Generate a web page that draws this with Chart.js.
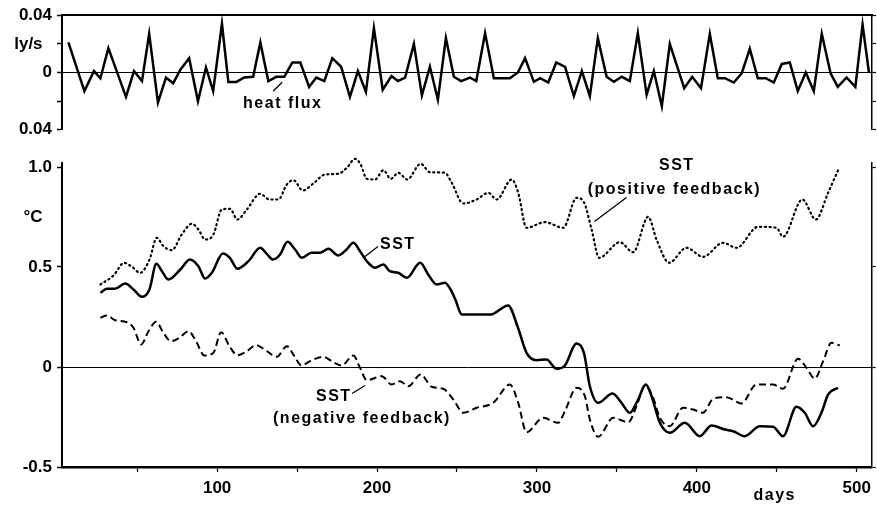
<!DOCTYPE html>
<html>
<head>
<meta charset="utf-8">
<script src="https://cdn.jsdelivr.net/npm/chart.js@4.4.0/dist/chart.umd.min.js"></script>
<style>
  html, body { margin: 0; padding: 0; background: #fff; }
  #wrap { position: relative; width: 877px; height: 506px; overflow: hidden; }
  #flux { position: absolute; left: 0; top: 0; }
  #sst { position: absolute; left: 0; top: 140px; }
</style>
</head>
<body>
<div id="wrap">
  <canvas id="flux" width="877" height="145"></canvas>
  <canvas id="sst" width="877" height="366"></canvas>
</div>
<script>
// heat flux (ly/s)
var fluxDays = [7, 17, 23, 27, 32, 43, 48, 53, 57.5, 63, 68, 72.5, 77, 82.5, 88, 93, 97.5, 103, 107, 112,
  117, 122.5, 127, 132, 137, 142, 147, 152, 157.5, 162, 167, 172, 177.5, 183, 188, 193, 198, 203.5, 209, 213,
  217.5, 223, 228, 233, 238, 243, 248, 252.5, 258, 262, 267.5, 273, 278, 283, 288, 292.5, 298, 302, 307, 312,
  317.5, 323, 328, 333, 338, 343.5, 348, 353, 358, 363, 368.5, 373, 378, 383, 392, 397, 402.5, 408, 413, 417.5,
  423, 428, 433, 438, 443, 448, 453, 458, 463, 468, 473, 478, 483.5, 488, 493.5, 499, 503.5, 507.5];
var fluxValues = [0.021, -0.013, 0.001, -0.004, 0.017, -0.017, 0.001, -0.006, 0.027, -0.021, -0.0035, -0.0075, 0.002, 0.010, -0.020, 0.0035, -0.013, 0.034, -0.0066, -0.0066,
  -0.0035, -0.003, 0.021, -0.006, -0.003, -0.003, 0.007, 0.007, -0.010, -0.0035, -0.006, 0.010, 0.004, -0.017, 0.001, -0.0135, 0.031, -0.012, -0.0025, -0.006,
  -0.0035, 0.020, -0.016, 0.004, -0.019, 0.024, -0.003, -0.006, -0.0035, -0.006, 0.0275, -0.004, -0.004, -0.004, 0.000, 0.010, -0.0065, -0.004, -0.007, 0.007,
  0.004, -0.0165, 0.001, -0.0165, 0.024, -0.003, -0.0065, -0.003, -0.006, 0.0275, -0.0155, 0.001, -0.0235, 0.020, -0.011, -0.003, -0.011, 0.027, -0.004, -0.004,
  -0.007, -0.0005, 0.0167, -0.004, -0.004, -0.007, 0.006, 0.007, -0.013, 0.000, -0.013, 0.027, -0.0005, -0.010, -0.0035, -0.010, 0.0335, 0.000];

// SST (solid)
var sstDays = [27, 31, 36, 42.5, 47.7, 53, 57.7, 62, 65.5, 69.6, 77, 83, 88.3, 92.5, 96.7, 103.6, 108, 112.7, 119.6, 127,
  131, 135, 139.4, 144, 148.8, 153, 159, 164.4, 169.6, 175.8, 181, 185.2, 189.4, 193.6, 198.8, 204, 208, 213.3, 218.6, 227,
  232, 237.3, 242.5, 246, 249, 253, 271, 282, 288, 293.5, 299.8, 306, 312.3, 317.5, 324.8, 329.4, 333.1, 338.3, 347.3, 352.9,
  358.1, 363.3, 368.1, 371.7, 376.9, 383.1, 392.5, 401.9, 409.2, 417.5, 422.7, 430, 439.4, 447.7, 453.9, 462.3, 467.5, 472.7, 477.9, 482.1, 488.3];
var sstValues = [0.371, 0.391, 0.391, 0.417, 0.388, 0.351, 0.388, 0.516, 0.479, 0.4375, 0.4875, 0.5375, 0.504, 0.4425, 0.471, 0.5675, 0.546, 0.491, 0.529, 0.596,
  0.566, 0.5375, 0.5625, 0.626, 0.5875, 0.546, 0.571, 0.571, 0.591, 0.5575, 0.5875, 0.621, 0.579, 0.529, 0.496, 0.5125, 0.479, 0.471, 0.446, 0.521,
  0.4625, 0.4125, 0.421, 0.3875, 0.3375, 0.2625, 0.2625, 0.3075, 0.20, 0.071, 0.034, 0.0375, -0.009, 0.0075, 0.1175, 0.071, -0.096, -0.179, -0.1325, -0.179,
  -0.229, -0.1625, -0.0875, -0.146, -0.279, -0.329, -0.279, -0.346, -0.2925, -0.3125, -0.321, -0.346, -0.296, -0.299, -0.346, -0.199, -0.229, -0.296, -0.229, -0.1375, -0.104];

// SST (negative feedback, dashed)
var negDays = [27, 31, 36.3, 43.6, 47.7, 52.5, 57.1, 61.9, 66.4, 71.1, 76.4, 82.1, 87.3, 91.9, 97.7, 102.5, 107.7, 112.7, 118.6, 124.4,
  131.1, 137.3, 143.6, 148.3, 152.9, 158.1, 166.4, 172.7, 177.9, 185.2, 189.4, 193.6, 203, 209.2, 214.4, 219.6, 227.3, 234.2, 241.4, 247.7,
  254, 262.3, 272.7, 283.1, 288.3, 293.5, 303.9, 313.3, 317.5, 324.8, 330, 333.1, 338.3, 347.7, 357.1, 362.3, 367.5, 372.3, 376.9, 383.1,
  391.4, 397.7, 403.9, 410.2, 418.5, 427.9, 437.3, 447.7, 453.9, 463.3, 468.6, 473.8, 479, 484.2, 489.4];
var negValues = [0.246, 0.2575, 0.234, 0.224, 0.196, 0.1125, 0.179, 0.226, 0.171, 0.129, 0.146, 0.179, 0.121, 0.0575, 0.071, 0.174, 0.104, 0.059, 0.079, 0.109,
  0.079, 0.051, 0.104, 0.054, 0.0075, 0.029, 0.051, 0.024, 0.0075, 0.0575, -0.004, -0.066, -0.046, -0.0875, -0.071, -0.096, -0.0375, -0.099, -0.109, -0.1625,
  -0.229, -0.204, -0.179, -0.0875, -0.179, -0.326, -0.254, -0.279, -0.221, -0.104, -0.146, -0.2625, -0.349, -0.254, -0.276, -0.196, -0.0925, -0.146, -0.254, -0.296,
  -0.204, -0.2125, -0.229, -0.159, -0.151, -0.1825, -0.0875, -0.0875, -0.109, 0.041, -0.004, -0.0575, 0.029, 0.121, 0.1075];

// SST (positive feedback, dotted)
var posDays = [27, 35.2, 41.9, 46.7, 51.9, 57.7, 62.3, 66.4, 71.7, 77.9, 84.2, 88.3, 92.5, 97.7, 102.9, 108.1, 112.7, 118.6, 126.9, 132.7,
  138.3, 143.6, 147.7, 153.6, 160.2, 167.5, 175.8, 181.1, 186.3, 189.8, 193.6, 198.8, 204, 208.6, 213.3, 218.9, 227.3, 233.1, 242.5, 246.7,
  254, 262.3, 269.6, 274.8, 284.2, 288.3, 293.5, 305, 316.5, 324.8, 329.4, 334.2, 338.9, 351.9, 360.2, 369.6, 374.8, 382.7, 393.5, 403.9,
  416.4, 424.8, 438.3, 449.8, 453.9, 466, 474.4, 482.1, 489];
var posValues = [0.4125, 0.4575, 0.521, 0.501, 0.471, 0.5375, 0.646, 0.604, 0.584, 0.6625, 0.716, 0.6875, 0.6375, 0.6625, 0.7875, 0.791, 0.7375, 0.7875, 0.866, 0.8375,
  0.8375, 0.9125, 0.934, 0.8825, 0.9175, 0.9625, 0.966, 0.996, 1.041, 1.0125, 0.941, 0.9375, 0.984, 0.941, 0.971, 0.9375, 1.016, 0.974, 0.971, 0.921,
  0.8175, 0.8375, 0.871, 0.8375, 0.9375, 0.871, 0.696, 0.724, 0.696, 0.846, 0.824, 0.6875, 0.546, 0.624, 0.574, 0.751, 0.6375, 0.521, 0.596, 0.551,
  0.621, 0.596, 0.701, 0.696, 0.651, 0.8375, 0.7375, 0.871, 0.996];

// ticks and their labels
var dayTicks = [50, 100, 150, 200, 250, 300, 350, 400, 450, 500];
var fluxTicks = [0.04, 0.02, 0, -0.02, -0.04];
var fluxTickLabels = ['0.04', 'ly/s  ', '0', '', '0.04'];
var sstTicks = [1, 0.75, 0.5, 0, -0.5];
var sstTickLabels = ['1.0', '°C  ', '0.5', '0', '-0.5'];
var sstRightTicks = [1, 0.5, 0, -0.5];

var dayMin = 3, dayMax = 509.4;
var ink = '#000';
var tickFont = { family: 'Liberation Sans, Arial, sans-serif', size: 17, weight: 'bold' };

function pts(xs, ys) {
  return xs.map(function (d, i) { return { x: d, y: ys[i] }; });
}
function setTicks(list) {
  return function (s) { s.ticks = list.map(function (v) { return { value: v }; }); };
}
function labelFor(list, labels) {
  return function (v) {
    for (var i = 0; i < list.length; i++) if (Math.abs(list[i] - v) < 1e-9) return labels[i];
    return '';
  };
}

// text labels and leader lines, placed in data units
var notes = {
  id: 'notes',
  afterDraw: function (chart) {
    var items = chart.options.plugins.notes.items;
    var xs = chart.scales.x, ys = chart.scales.y, c = chart.ctx;
    c.save();
    c.fillStyle = ink;
    c.strokeStyle = ink;
    c.textAlign = 'center';
    c.textBaseline = 'middle';
    items.forEach(function (it) {
      if (it.line) {
        c.lineWidth = 1.3;
        c.beginPath();
        c.moveTo(xs.getPixelForValue(it.line[0]), ys.getPixelForValue(it.line[1]));
        c.lineTo(xs.getPixelForValue(it.line[2]), ys.getPixelForValue(it.line[3]));
        c.stroke();
      } else {
        c.font = 'bold 16px "Liberation Sans", Arial, sans-serif';
        c.letterSpacing = '1.5px';
        var py = it.below !== undefined ? chart.chartArea.bottom + it.below : ys.getPixelForValue(it.y);
        c.fillText(it.text, xs.getPixelForValue(it.x), py);
      }
    });
    c.restore();
  }
};

function isZero(ctx) {
  return ctx.tick && Math.abs(ctx.tick.value) < 1e-9;
}

new Chart(document.getElementById('flux'), {
  type: 'line',
  data: {
    datasets: [{
      data: pts(fluxDays, fluxValues),
      borderColor: ink,
      borderWidth: 2.5,
      pointRadius: 0,
      tension: 0,
      clip: false
    }]
  },
  options: {
    responsive: false,
    animation: false,
    layout: { padding: { top: 15, bottom: 15, left: 0, right: 0 } },
    plugins: {
      legend: { display: false },
      tooltip: { enabled: false },
      notes: {
        items: [
          { text: 'heat flux', x: 141, y: -0.0216 },
          { line: [135, -0.0131, 140.6, -0.0068] }
        ]
      }
    },
    scales: {
      x: { type: 'linear', min: dayMin, max: dayMax, display: false },
      xTop: {
        type: 'linear', position: 'top', min: dayMin, max: dayMax,
        afterFit: function (s) { s.height = 0; },
        ticks: { display: false },
        grid: { drawOnChartArea: false, drawTicks: false },
        border: { display: true, width: 2, color: ink }
      },
      y: {
        min: -0.04, max: 0.04,
        afterFit: function (s) { s.width = 62; },
        afterBuildTicks: setTicks(fluxTicks),
        ticks: { color: ink, font: tickFont, padding: 5, callback: labelFor(fluxTicks, fluxTickLabels) },
        grid: {
          color: function (ctx) { return isZero(ctx) ? ink : 'rgba(0,0,0,0)'; },
          lineWidth: 1, tickColor: ink, tickWidth: 1.5, tickLength: 5
        },
        border: { width: 2, color: ink }
      },
      yRight: {
        position: 'right', min: -0.04, max: 0.04,
        afterFit: function (s) { s.width = 5; },
        afterBuildTicks: setTicks(fluxTicks),
        ticks: { display: false },
        grid: { drawOnChartArea: false, tickColor: ink, tickWidth: 1.2, tickLength: 4 },
        border: { width: 1.5, color: ink }
      }
    }
  },
  plugins: [notes]
});

new Chart(document.getElementById('sst'), {
  type: 'line',
  data: {
    datasets: [{
      data: pts(posDays, posValues),
      borderColor: ink, borderWidth: 2.2, borderDash: [1.2, 3.6], borderCapStyle: 'round',
      pointRadius: 0, cubicInterpolationMode: 'monotone', clip: false
    }, {
      data: pts(sstDays, sstValues),
      borderColor: ink, borderWidth: 2.5,
      pointRadius: 0, cubicInterpolationMode: 'monotone', clip: false
    }, {
      data: pts(negDays, negValues),
      borderColor: ink, borderWidth: 2, borderDash: [7, 4],
      pointRadius: 0, cubicInterpolationMode: 'monotone', clip: false
    }]
  },
  options: {
    responsive: false,
    animation: false,
    layout: { padding: { top: 23, bottom: 0, left: 0, right: 0 } },
    plugins: {
      legend: { display: false },
      tooltip: { enabled: false },
      notes: {
        items: [
          { text: 'SST', x: 213, y: 0.6125 },
          { line: [192.5, 0.5525, 200.6, 0.6025] },
          { text: 'SST', x: 387.5, y: 1.0075 },
          { text: '(positive feedback)', x: 386, y: 0.8875 },
          { line: [356, 0.8475, 336, 0.7275] },
          { text: 'SST', x: 173, y: -0.1475 },
          { line: [184.4, -0.1325, 192.5, -0.0925] },
          { text: '(negative feedback)', x: 190.6, y: -0.2575 },
          { text: 'days', x: 448.75, below: 29 }
        ]
      }
    },
    scales: {
      x: {
        type: 'linear', min: dayMin, max: dayMax,
        afterFit: function (s) { s.height = 39; },
        afterBuildTicks: setTicks(dayTicks),
        ticks: {
          color: ink, font: tickFont, padding: 6, maxRotation: 0, autoSkip: false,
          callback: function (v) { return v % 100 === 0 ? String(v) : ''; }
        },
        grid: { drawOnChartArea: false, tickColor: ink, tickWidth: 1.2, tickLength: 5 },
        border: { width: 2.5, color: ink }
      },
      y: {
        min: -0.5, max: 1.02,
        afterFit: function (s) { s.width = 62; },
        afterBuildTicks: setTicks(sstTicks),
        ticks: { color: ink, font: tickFont, padding: 5, callback: labelFor(sstTicks, sstTickLabels) },
        grid: {
          color: function (ctx) { return isZero(ctx) ? ink : 'rgba(0,0,0,0)'; },
          tickColor: function (ctx) { return ctx.tick && Math.abs(ctx.tick.value - 0.75) < 1e-9 ? 'rgba(0,0,0,0)' : ink; },
          lineWidth: 1, tickWidth: 1.5, tickLength: 5
        },
        border: { width: 2, color: ink }
      },
      yRight: {
        position: 'right', min: -0.5, max: 1.02,
        afterFit: function (s) { s.width = 5; },
        afterBuildTicks: setTicks(sstRightTicks),
        ticks: { display: false },
        grid: { drawOnChartArea: false, tickColor: ink, tickWidth: 1.2, tickLength: 4 },
        border: { width: 1.5, color: ink }
      }
    }
  },
  plugins: [notes]
});
</script>
</body>
</html>
